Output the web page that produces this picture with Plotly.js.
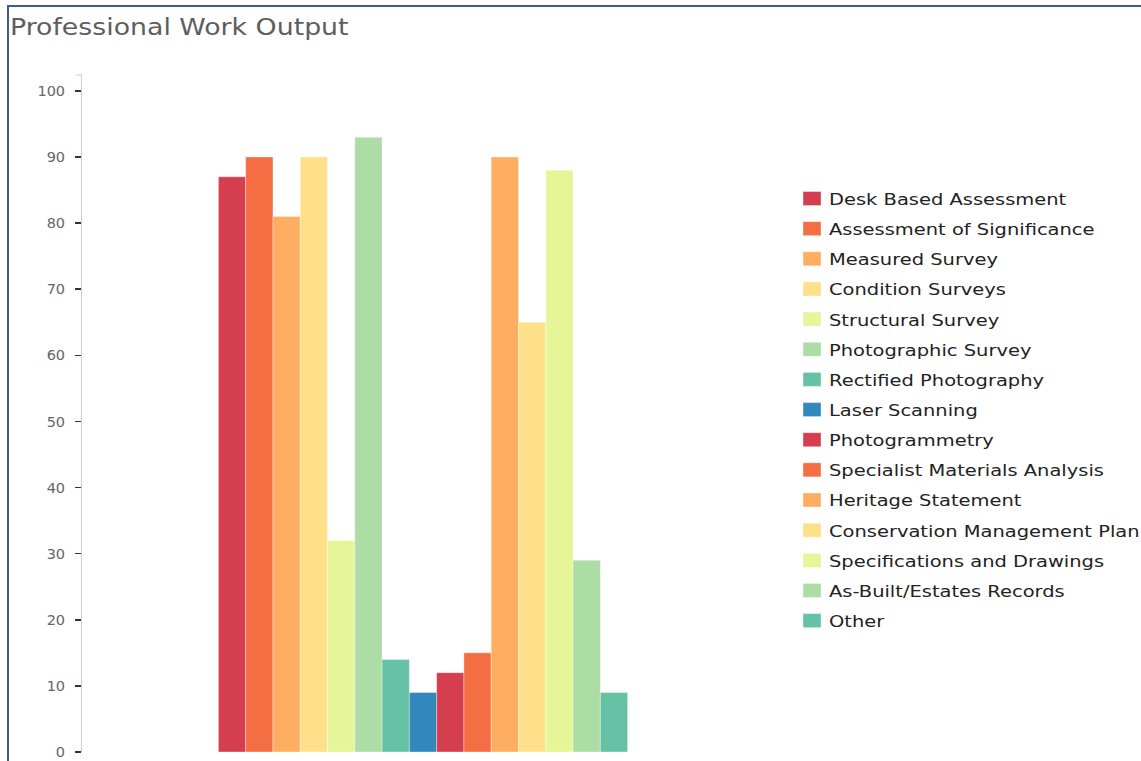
<!DOCTYPE html>
<html>
<head>
<meta charset="utf-8">
<script src="https://cdn.plot.ly/plotly-3.0.1.min.js"></script>
<style>
  html, body { margin: 0; padding: 0; background: #fff; overflow: hidden; }
  #chart { position: absolute; left: 0; top: 0; width: 1141px; height: 761px; }
  #bt { position: absolute; left: 7px; top: 5px; width: 1134px; height: 2px; background: #3b5f93; }
  #bl { position: absolute; left: 7px; top: 5px; width: 2px; height: 756px; background: #3b5f93; }
  #chart .legendtext { transform-box: fill-box; transform-origin: 0% 50%; transform: scaleX(1.18); }
  #chart .gtitle { transform-box: fill-box; transform-origin: 0% 50%; transform: scaleX(1.19); }
</style>
</head>
<body>
<div id="chart"></div>
<div id="bt"></div>
<div id="bl"></div>
<script>
const categories = ["Work"];
const seriesNames = [
  "Desk Based Assessment", "Assessment of Significance", "Measured Survey",
  "Condition Surveys", "Structural Survey", "Photographic Survey",
  "Rectified Photography", "Laser Scanning", "Photogrammetry",
  "Specialist Materials Analysis", "Heritage Statement",
  "Conservation Management Plan", "Specifications and Drawings",
  "As-Built/Estates Records", "Other"
];
const seriesValues = [87, 90, 81, 90, 32, 93, 14, 9, 12, 15, 90, 65, 88, 29, 9];
const seriesColors = [
  "#d53e4f", "#f46d43", "#fdae61", "#fee08b", "#e6f598", "#abdda4",
  "#66c2a5", "#3288bd", "#d53e4f", "#f46d43", "#fdae61", "#fee08b",
  "#e6f598", "#abdda4", "#66c2a5"
];
const yTicks = [0, 10, 20, 30, 40, 50, 60, 70, 80, 90, 100];

const traces = seriesNames.map((name, i) => ({
  type: "bar",
  name: name,
  x: categories,
  y: [seriesValues[i]],
  legendgroup: "g" + i,
  marker: { color: seriesColors[i], line: { color: "rgba(255,255,255,0.6)", width: 0.6 } },
  hoverinfo: "name+y"
}));

const layout = {
  width: 1141,
  height: 761,
  margin: { l: 82, r: 377, t: 75, b: 9, pad: 0 },
  paper_bgcolor: "#fff",
  plot_bgcolor: "#fff",
  font: { family: "DejaVu Sans, Verdana, sans-serif", color: "#333" },
  title: {
    text: "Professional Work Output",
    xref: "container", yref: "container",
    x: 10 / 1141, xanchor: "left",
    y: 1 - 27 / 761, yanchor: "middle",
    font: { size: 22.5, color: "#5e5e5e", family: "DejaVu Sans, Verdana, sans-serif" }
  },
  barmode: "group",
  bargap: 0.4,
  bargroupgap: 0,
  showlegend: true,
  legend: {
    x: 1.0367, xanchor: "left",
    y: 0.843, yanchor: "top",
    font: { size: 16.5, color: "#222" },
    tracegroupgap: 5.7,
    traceorder: "grouped",
    bgcolor: "rgba(0,0,0,0)"
  },
  xaxis: {
    type: "category",
    range: [-0.5, 0.5],
    showticklabels: false,
    showline: false,
    showgrid: false,
    zeroline: false,
    ticks: ""
  },
  yaxis: {
    range: [0, 102.4],
    tickvals: yTicks,
    ticktext: yTicks.map(String),
    ticks: "outside",
    ticklen: 6,
    tickwidth: 1.5,
    tickcolor: "#333",
    ticklabelstandoff: 7,
    showline: true,
    linecolor: "#cfcfcf",
    linewidth: 1,
    showgrid: false,
    zeroline: false,
    tickfont: { size: 14.5, color: "#666" }
  },
  shapes: [
    { type: "line", xref: "paper", yref: "paper", x0: -0.009, x1: 0, y0: 1, y1: 1,
      line: { color: "#cfcfcf", width: 1 } }
  ]
};

Plotly.newPlot("chart", traces, layout, { displayModeBar: false, staticPlot: true }).then(() => {
  document.querySelectorAll(".legend .legendpoints path").forEach(p => {
    p.setAttribute("d", "M12,7H-6V-7H12Z");
  });
  document.querySelectorAll(".legend [clip-path]").forEach(el => el.removeAttribute("clip-path"));
});
</script>
</body>
</html>
